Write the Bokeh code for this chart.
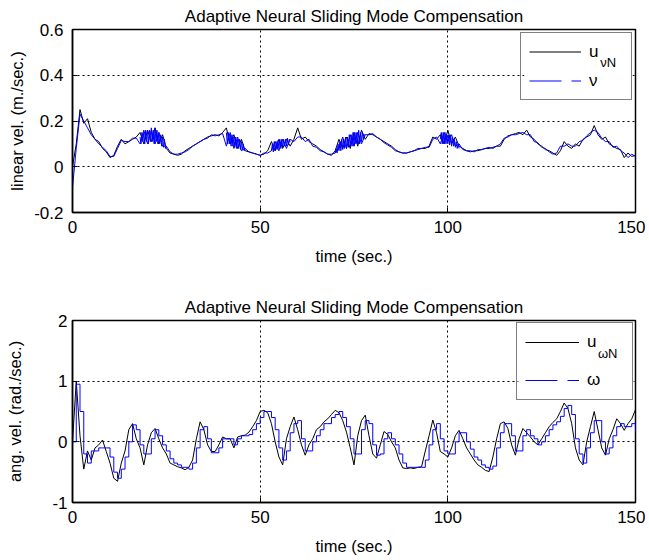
from bokeh.plotting import figure
from bokeh.models import (Range1d, FixedTicker, CustomJSTickFormatter,
                          Legend, LegendItem, Title, BoxAnnotation)
from bokeh.core.properties import value
from bokeh.layouts import column
from bokeh.embed import file_html
from bokeh.resources import INLINE

# ---------------- data ----------------
t_sec = list(range(0, 151))

u_nu = [0.00, 0.10, 0.25, 0.19, 0.21, 0.15, 0.12, 0.11, 0.08, 0.065,
        0.04, 0.05, 0.09, 0.12, 0.10, 0.11, 0.12, 0.13, 0.15, 0.10,
        0.16, 0.11, 0.17, 0.10, 0.14, 0.08, 0.06, 0.055, 0.05, 0.055,
        0.07, 0.08, 0.09, 0.10, 0.11, 0.12, 0.13, 0.135, 0.14, 0.135,
        0.15, 0.17, 0.10, 0.14, 0.08, 0.12, 0.07, 0.065, 0.06, 0.055,
        0.05, 0.055, 0.07, 0.11, 0.07, 0.12, 0.08, 0.12, 0.09, 0.12,
        0.17, 0.12, 0.13, 0.11, 0.10, 0.09, 0.075, 0.065, 0.055, 0.05,
        0.07, 0.12, 0.08, 0.13, 0.08, 0.15, 0.09, 0.16, 0.12, 0.145,
        0.14, 0.13, 0.12, 0.11, 0.10, 0.09, 0.075, 0.065, 0.06, 0.06,
        0.065, 0.07, 0.075, 0.08, 0.08, 0.09, 0.13, 0.12, 0.14, 0.10,
        0.16, 0.10, 0.13, 0.09, 0.08, 0.07, 0.065, 0.07, 0.07, 0.075,
        0.08, 0.08, 0.085, 0.09, 0.09, 0.12, 0.135, 0.14, 0.145, 0.15,
        0.14, 0.16, 0.13, 0.12, 0.10, 0.09, 0.075, 0.07, 0.06, 0.05,
        0.07, 0.11, 0.09, 0.08, 0.10, 0.09, 0.12, 0.13, 0.14, 0.18,
        0.14, 0.12, 0.13, 0.10, 0.09, 0.08, 0.075, 0.04, 0.06, 0.045,
        0.05]

nu = [-0.09, 0.08, 0.23, 0.20, 0.17, 0.14, 0.12, 0.10, 0.085, 0.07,
      0.045, 0.045, 0.08, 0.115, 0.11, 0.11, 0.125, 0.125, 0.10, 0.16,
      0.10, 0.16, 0.10, 0.15, 0.09, 0.09, 0.065, 0.055, 0.055, 0.06,
      0.065, 0.075, 0.09, 0.10, 0.11, 0.12, 0.125, 0.14, 0.135, 0.14,
      0.145, 0.09, 0.15, 0.08, 0.13, 0.07, 0.08, 0.065, 0.06, 0.055,
      0.05, 0.06, 0.06, 0.07, 0.11, 0.07, 0.12, 0.08, 0.12, 0.11,
      0.13, 0.13, 0.11, 0.12, 0.09, 0.085, 0.07, 0.065, 0.055, 0.055,
      0.06, 0.08, 0.13, 0.08, 0.14, 0.09, 0.15, 0.10, 0.14, 0.14,
      0.145, 0.13, 0.12, 0.105, 0.095, 0.085, 0.07, 0.065, 0.06, 0.06,
      0.065, 0.07, 0.08, 0.08, 0.085, 0.085, 0.12, 0.13, 0.10, 0.15,
      0.11, 0.14, 0.09, 0.10, 0.075, 0.07, 0.07, 0.065, 0.075, 0.075,
      0.08, 0.085, 0.08, 0.09, 0.10, 0.125, 0.13, 0.14, 0.14, 0.145,
      0.15, 0.14, 0.14, 0.11, 0.105, 0.085, 0.08, 0.065, 0.055, 0.06,
      0.09, 0.09, 0.10, 0.09, 0.09, 0.11, 0.115, 0.135, 0.15, 0.16,
      0.15, 0.125, 0.11, 0.11, 0.085, 0.09, 0.07, 0.06, 0.04, 0.055,
      0.045]

# fast chattering stretches of nu, sampled every 0.25 s from the given start time
band_start = [18, 41, 53, 70, 98]
band_step = 0.25
nu_band_1 = [0.13, 0.10, 0.15, 0.11, 0.15, 0.10, 0.16, 0.11, 0.16, 0.10,
             0.16, 0.11, 0.17, 0.11, 0.16, 0.10, 0.17, 0.11, 0.16, 0.10,
             0.15, 0.10, 0.14, 0.09, 0.13, 0.085, 0.12, 0.08, 0.09]
nu_band_2 = [0.15, 0.10, 0.15, 0.10, 0.14, 0.09, 0.14, 0.09, 0.13, 0.085,
             0.13, 0.08, 0.12, 0.08, 0.12, 0.075, 0.11, 0.075, 0.10, 0.07, 0.08]
nu_band_3 = [0.07, 0.10, 0.065, 0.11, 0.07, 0.11, 0.075, 0.115, 0.08, 0.12,
             0.08, 0.12, 0.085, 0.12, 0.09, 0.12, 0.09, 0.125, 0.095, 0.12, 0.11]
nu_band_4 = [0.06, 0.08, 0.06, 0.10, 0.07, 0.11, 0.07, 0.12, 0.075, 0.12,
             0.08, 0.13, 0.08, 0.13, 0.085, 0.14, 0.09, 0.14, 0.09, 0.15,
             0.09, 0.15, 0.10, 0.15, 0.10, 0.16, 0.10, 0.15, 0.11, 0.15,
             0.12, 0.14, 0.14]
nu_band_5 = [0.12, 0.15, 0.10, 0.15, 0.10, 0.15, 0.10, 0.14, 0.10, 0.14,
             0.095, 0.14, 0.09, 0.13, 0.09, 0.12, 0.085, 0.11, 0.08, 0.10, 0.08]
nu_bands = [nu_band_1, nu_band_2, nu_band_3, nu_band_4, nu_band_5]

u_omega = [0.0, 1.0, 0.1, -0.45, -0.15, -0.3, -0.1, -0.05, 0.03, -0.16,
           -0.35, -0.6, -0.65, -0.35, -0.15, 0.2, 0.3, 0.05, -0.1, -0.38,
           -0.05, 0.15, 0.22, 0.05, -0.1, -0.2, -0.35, -0.38, -0.41, -0.43,
           -0.46, -0.42, -0.3, 0.05, 0.33, 0.2, -0.05, -0.16, -0.16, -0.05,
           0.08, 0.05, 0.05, -0.1, 0.08, 0.1, 0.11, 0.16, 0.25, 0.35,
           0.5, 0.52, 0.48, 0.3, 0.0, -0.25, -0.38, 0.05, 0.25, 0.41,
           0.2, -0.05, -0.22, -0.05, 0.05, 0.2, 0.25, 0.33, 0.38, 0.45,
           0.52, 0.48, 0.35, 0.16, -0.1, -0.38, 0.1, 0.35, 0.44, 0.1,
           -0.2, -0.27, -0.05, 0.17, 0.12, 0.0, -0.1, -0.3, -0.43, -0.44,
           -0.43, -0.44, -0.42, -0.41, -0.15, 0.1, 0.36, 0.15, -0.16, -0.2,
           -0.25, -0.1, 0.1, 0.19, 0.05, -0.1, -0.2, -0.3, -0.38, -0.42,
           -0.47, -0.49, -0.25, 0.05, 0.3, 0.33, 0.22, -0.05, -0.22, 0.05,
           0.22, 0.15, 0.08, 0.0, -0.05, 0.05, 0.15, 0.25, 0.32, 0.38,
           0.5, 0.64, 0.55, 0.3, -0.1, -0.3, -0.38, 0.0, 0.25, 0.5,
           0.2, -0.1, -0.22, 0.05, 0.2, 0.38, 0.3, 0.19, 0.3, 0.38,
           0.53]

omega = [0.0, 0.95, 0.5, -0.2, -0.35, -0.15, -0.15, -0.1, -0.1, -0.1,
         -0.25, -0.5, -0.6, -0.45, -0.25, 0.0, 0.28, 0.2, -0.05, -0.2,
         -0.2, 0.05, 0.2, 0.1, -0.05, -0.15, -0.28, -0.35, -0.38, -0.42,
         -0.42, -0.45, -0.35, -0.1, 0.2, 0.25, 0.05, -0.18, -0.18, -0.1,
         0.05, 0.05, 0.05, -0.05, 0.05, 0.1, 0.1, 0.12, 0.2, 0.3,
         0.4, 0.5, 0.5, 0.4, 0.2, -0.1, -0.3, -0.15, 0.15, 0.3,
         0.35, 0.05, -0.15, -0.15, 0.0, 0.1, 0.2, 0.3, 0.3, 0.4,
         0.45, 0.5, 0.4, 0.25, 0.05, -0.2, -0.2, 0.2, 0.35, 0.3,
         -0.05, -0.22, -0.2, 0.05, 0.15, 0.05, -0.05, -0.2, -0.35, -0.42,
         -0.42, -0.42, -0.42, -0.42, -0.3, -0.05, 0.2, 0.3, 0.05, -0.15,
         -0.2, -0.2, 0.0, 0.15, 0.15, 0.0, -0.12, -0.25, -0.3, -0.38,
         -0.42, -0.45, -0.4, -0.1, 0.15, 0.3, 0.3, 0.1, -0.15, -0.15,
         0.1, 0.2, 0.1, 0.05, -0.05, 0.0, 0.1, 0.2, 0.28, 0.33,
         0.42, 0.55, 0.6, 0.45, 0.05, -0.2, -0.35, -0.1, 0.15, 0.35,
         0.35, 0.0, -0.2, -0.1, 0.1, 0.25, 0.3, 0.25, 0.25, 0.3,
         0.16]

x_ticks = [0, 50, 100, 150]
y1_ticks = [-0.2, 0, 0.2, 0.4, 0.6]
y2_ticks = [-1, 0, 1, 2]

TITLE = "Adaptive Neural Sliding Mode Compensation"
XLABEL = "time (sec.)"
YLABEL_1 = "linear vel. (m./sec.)"
YLABEL_2 = "ang. vel. (rad./sec.)"
SUB_1 = "\u03bdN"
SUB_2 = "\u03c9N"
FONT = "Liberation Sans"
BLUE = "#0000ff"
NAN = float("nan")

fmt = CustomJSTickFormatter(code="return String(Math.round(tick*10)/10)")


def make_fig(h, top, bottom, yr, yticks, ylabel, ylab_standoff, ytick_standoff):
    p = figure(width=645, height=h, x_range=Range1d(0, 150), y_range=Range1d(*yr),
               output_backend="svg", toolbar_location=None,
               min_border_left=72, min_border_right=10,
               min_border_top=top, min_border_bottom=bottom)
    p.add_layout(Title(text=TITLE, align="center", text_font=FONT,
                       text_font_size="17px", text_font_style="normal",
                       text_color="black", standoff=8), "above")
    p.xaxis.ticker = FixedTicker(ticks=x_ticks)
    p.yaxis.ticker = FixedTicker(ticks=yticks)
    p.xaxis.formatter = fmt
    p.yaxis.formatter = fmt
    p.xaxis.axis_label = XLABEL
    p.yaxis.axis_label = ylabel
    for ax in (p.xaxis, p.yaxis):
        ax.major_tick_in = 5
        ax.major_tick_out = 0
        ax.minor_tick_line_color = None
        ax.axis_line_width = 1.5
        ax.axis_line_color = "black"
        ax.major_tick_line_color = "black"
        ax.major_label_text_font = FONT
        ax.major_label_text_font_size = "17px"
        ax.major_label_text_color = "black"
        ax.axis_label_text_font = FONT
        ax.axis_label_text_font_size = "16.5px"
        ax.axis_label_text_font_style = "normal"
        ax.axis_label_text_color = "black"
    p.xaxis.major_label_standoff = 8
    p.xaxis.axis_label_standoff = 11
    p.yaxis.major_label_standoff = ytick_standoff
    p.yaxis.axis_label_standoff = ylab_standoff
    p.grid.grid_line_color = "black"
    p.grid.grid_line_dash = "2 3"
    p.grid.grid_line_width = 1
    p.outline_line_color = "black"
    p.outline_line_width = 1.5
    return p


def add_legend(p, items, box, sub_xy, sub_txt, **kw):
    # white patch under the (see-through) legend hides the grid; the legend keeps
    # its own black border; the "u" subscript is a text glyph drawn above the patch
    left, right, bottom, top = box
    p.add_layout(BoxAnnotation(left=left, right=right, bottom=bottom, top=top,
                               level="underlay", fill_color="white", fill_alpha=1,
                               line_color=None))
    leg = Legend(items=items, location="top_right", label_text_font=FONT,
                 label_text_font_size="17px", label_text_color="black",
                 border_line_color="black", border_line_width=1,
                 background_fill_alpha=0, **kw)
    p.add_layout(leg)
    p.text(x=[sub_xy[0]], y=[sub_xy[1]], text=[sub_txt],
           text_font=value(FONT), text_font_size=value("13px"),
           text_color="black", text_baseline="alphabetic", text_align="left")


# ---------------- top ----------------
p1 = make_fig(290, 29, 78, (-0.2, 0.6), y1_ticks, YLABEL_1, 5, 9)
r1 = p1.line(t_sec, u_nu, line_color="black", line_width=1)
r2 = p1.line(t_sec, nu, line_color=BLUE, line_width=1)
for start, vals in zip(band_start, nu_bands):
    tb = [start + band_step * i for i in range(len(vals))]
    p1.line(tb, vals, line_color=BLUE, line_width=1)
d1 = p1.line([NAN], [NAN], line_color=BLUE, line_width=1, line_dash="32 10")
add_legend(p1, [LegendItem(label="u", renderers=[r1]),
                LegendItem(label="\u03bd", renderers=[d1])],
           (120.4, 149.2, 0.298, 0.587), (140.6, 0.456), SUB_1,
           margin=3, padding=8, spacing=8, glyph_width=52, glyph_height=21,
           label_height=21, label_width=34, label_standoff=8)

# ---------------- bottom ----------------
p2 = make_fig(269, 30, 57, (-1, 2), y2_ticks, YLABEL_2, 25, 5)
r3 = p2.line(t_sec, u_omega, line_color="black", line_width=1)
r4 = p2.step(t_sec, omega, mode="after", line_color=BLUE, line_width=1)
d2 = p2.line([NAN], [NAN], line_color=BLUE, line_width=1, line_dash="32 10")
add_legend(p2, [LegendItem(label="u", renderers=[r3]),
                LegendItem(label="\u03c9", renderers=[d2])],
           (118.8, 149.5, 0.715, 1.966), (140.0, 1.45), SUB_2,
           margin=2, padding=8, spacing=16, glyph_width=54, glyph_height=22,
           label_height=22, label_width=37, label_standoff=8)

layout = column(p1, p2, spacing=0)
open("out.html", "w").write(file_html(layout, INLINE))
